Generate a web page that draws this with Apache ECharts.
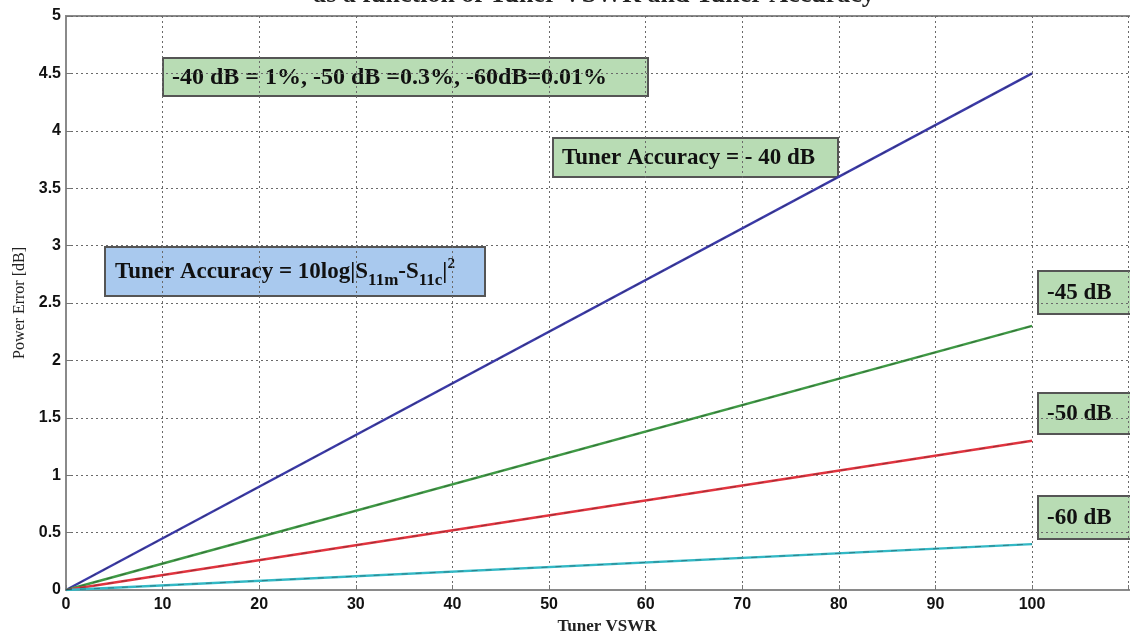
<!DOCTYPE html>
<html><head><meta charset="utf-8">
<script src="https://cdn.jsdelivr.net/npm/echarts@6/dist/echarts.min.js"></script>
<style>html,body{margin:0;padding:0;background:#fff}#c{width:1130px;height:632px}</style>
</head><body><div id="c"></div>
<script>
const titleText = 'as a function of Tuner VSWR and Tuner Accuracy';
const xLabel = 'Tuner VSWR';
const yLabel = 'Power Error [dB]';
const vswr = [0, 100];
const acc40 = [0, 4.5];
const acc45 = [0, 2.3];
const acc50 = [0, 1.3];
const acc60 = [0, 0.4];
const seriesNames = ['-40 dB', '-45 dB', '-50 dB', '-60 dB'];
const seriesColors = ['#3b3aa8', '#3f9a45', '#e2343f', '#33b9c6'];

const chart = echarts.init(document.getElementById('c'));
const pairs = a => vswr.map((x, i) => [x, a[i]]);
const allData = [acc40, acc45, acc50, acc60];

const series = [];
allData.forEach((d, i) => {
  series.push({
    type: 'line', name: seriesNames[i], data: pairs(d), symbol: 'none',
    lineStyle: { color: seriesColors[i], width: 2.4 }, z: 3
  });
  series.push({
    type: 'line', name: seriesNames[i] + ' meas', data: pairs(d), symbol: 'none',
    lineStyle: { color: 'rgba(40,40,40,0.4)', width: 1, type: [6, 8] }, z: 4
  });
});

const serifB = '"Liberation Serif", "DejaVu Serif", serif';
const sansB = '"Liberation Sans", Arial, sans-serif';
function box(x, y, w, h, fill, text, fontSize) {
  return {
    type: 'group', left: x, top: y, children: [
      { type: 'rect', shape: { x: 0, y: 0, width: w, height: h },
        style: { fill: fill, stroke: '#555', lineWidth: 2 } },
      { type: 'text', x: 9, y: h / 2 + 1,
        style: { text: text, font: 'bold ' + fontSize + 'px ' + serifB, fill: '#111', verticalAlign: 'middle' } }
    ]
  };
}

chart.setOption({
  animation: false,
  backgroundColor: '#fff',
  grid: { left: 66, top: 16, width: 1082, height: 574, show: true, borderColor: '#8a8a8a', borderWidth: 2,
    containLabel: false, outerBoundsMode: 'none' },
  xAxis: {
    type: 'value', min: 0, max: 112, interval: 10,
    name: xLabel, nameLocation: 'middle', nameGap: 22,
    nameTextStyle: { fontFamily: serifB, fontWeight: 'bold', fontSize: 17, color: '#222', align: 'center' },
    axisLine: { show: true, lineStyle: { color: '#8a8a8a', width: 2 } },
    axisTick: { show: true, inside: true, length: 5, lineStyle: { color: '#777' } },
    axisLabel: { color: '#111', fontFamily: sansB, fontWeight: 'bold', fontSize: 16, margin: 7,
      formatter: v => v > 100 ? '' : String(v) },
    splitLine: { show: true, lineStyle: { color: '#6a6a6a', type: [2, 3], width: 1 } }
  },
  yAxis: {
    type: 'value', min: 0, max: 5, interval: 0.5,
    name: yLabel, nameLocation: 'middle', nameGap: 38, nameRotate: 90,
    nameTextStyle: { fontFamily: serifB, fontSize: 16, color: '#222' },
    axisLine: { show: true, lineStyle: { color: '#8a8a8a', width: 2 } },
    axisTick: { show: true, inside: true, length: 5, lineStyle: { color: '#777' } },
    axisLabel: { color: '#111', fontFamily: sansB, fontWeight: 'bold', fontSize: 16, margin: 5 },
    splitLine: { show: true, lineStyle: { color: '#6a6a6a', type: [2, 3], width: 1 } }
  },
  series: series,
  graphic: [
    { type: 'text', x: 594, y: 8, style: { text: titleText, font: 'bold 26px ' + serifB, fill: '#222', align: 'center', verticalAlign: 'bottom' } },
    box(162, 57, 485, 38, '#b8dcb4', '-40 dB = 1%, -50 dB =0.3%, -60dB=0.01%', 24),
    box(552, 137, 285, 39, '#b8dcb4', 'Tuner Accuracy = - 40 dB', 23),
    {
      type: 'group', left: 104, top: 246, children: [
        { type: 'rect', shape: { x: 0, y: 0, width: 380, height: 49 }, style: { fill: '#a9c9ee', stroke: '#555', lineWidth: 2 } },
        { type: 'text', x: 10, y: 25, style: {
          text: '{a|Tuner Accuracy = 10log|S}{s|11m}{a|-S}{s|11c}{a||}{p|2}',
          verticalAlign: 'middle',
          rich: {
            a: { font: 'bold 23px ' + serifB, fill: '#111', lineHeight: 34, verticalAlign: 'middle' },
            s: { font: 'bold 17px ' + serifB, fill: '#111', lineHeight: 34, padding: [18, 0, 0, 0] },
            p: { font: 'bold 15px ' + serifB, fill: '#111', lineHeight: 34, padding: [0, 0, 16, 0] }
          }
        } }
      ]
    },
    box(1037, 270, 100, 43, '#b8dcb4', '-45 dB', 23),
    box(1037, 392, 100, 41, '#b8dcb4', '-50 dB', 23),
    box(1037, 495, 100, 43, '#b8dcb4', '-60 dB', 23)
  ]
});
</script></body></html>
